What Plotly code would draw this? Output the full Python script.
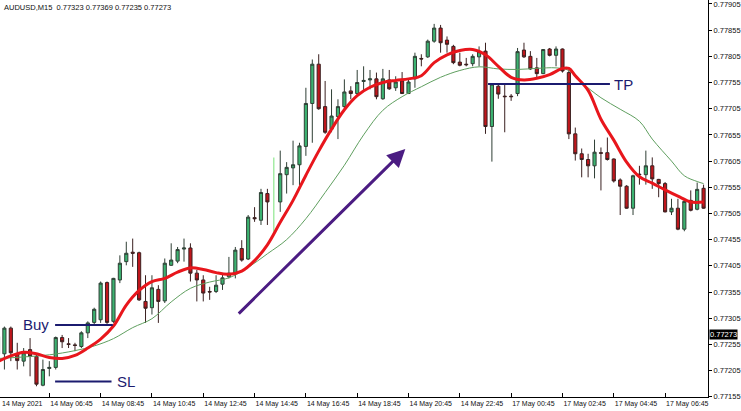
import plotly.graph_objects as go

# ---------------- data ----------------
bars = list(range(111))  # 15-minute bars, bar 0 = 14 May 04:45

opens = [0.77237, 0.77237, 0.77286, 0.77237, 0.77223, 0.77245, 0.77232, 0.77177, 0.77209, 0.77211,
         0.77268, 0.77256, 0.77254, 0.77251, 0.77277, 0.77297, 0.77302, 0.77373, 0.77299, 0.77378,
         0.77413, 0.77431, 0.77430, 0.77337, 0.77325, 0.77360, 0.77338, 0.77406, 0.77414, 0.77437,
         0.77439, 0.77391, 0.77378, 0.77356, 0.77356, 0.77370, 0.77384, 0.77391, 0.77438, 0.77418,
         0.77497, 0.77492, 0.77543, 0.77530, 0.77527, 0.77579, 0.77592, 0.77598, 0.77633, 0.77715,
         0.77790, 0.77709, 0.77666, 0.77690, 0.77709, 0.77739, 0.77734, 0.77757, 0.77760, 0.77762,
         0.77724, 0.77760, 0.77745, 0.77758, 0.77734, 0.77762, 0.77801, 0.77804, 0.77834, 0.77859,
         0.77836, 0.77824, 0.77794, 0.77790, 0.77791, 0.77804, 0.77815, 0.77671, 0.77748, 0.77729,
         0.77729, 0.77734, 0.77817, 0.77805, 0.77783, 0.77772, 0.77819, 0.77807, 0.77819, 0.77774,
         0.77657, 0.77619, 0.77608, 0.77596, 0.77621, 0.77621, 0.77609, 0.77569, 0.77557, 0.77515,
         0.77580, 0.77579, 0.77596, 0.77570, 0.77562, 0.77508, 0.77515, 0.77475, 0.77530, 0.77513,
         0.77553]
highs = [0.77273, 0.77289, 0.77289, 0.77258, 0.77248, 0.77267, 0.77235, 0.77226, 0.77223, 0.77270,
         0.77273, 0.77267, 0.77258, 0.77280, 0.77299, 0.77325, 0.77375, 0.77375, 0.77382, 0.77425,
         0.77451, 0.77457, 0.77432, 0.77387, 0.77387, 0.77368, 0.77419, 0.77448, 0.77441, 0.77457,
         0.77448, 0.77397, 0.77387, 0.77365, 0.77387, 0.77391, 0.77422, 0.77441, 0.77454, 0.77502,
         0.77517, 0.77552, 0.77552, 0.77612, 0.77625, 0.77603, 0.77644, 0.77640, 0.77745, 0.77799,
         0.77809, 0.77758, 0.77742, 0.77723, 0.77761, 0.77748, 0.77779, 0.77786, 0.77779, 0.77774,
         0.77781, 0.77779, 0.77767, 0.77775, 0.77761, 0.77812, 0.77809, 0.77837, 0.77867, 0.77865,
         0.77843, 0.77827, 0.77812, 0.77802, 0.77809, 0.77824, 0.77831, 0.77753, 0.77753, 0.77752,
         0.77733, 0.77821, 0.77831, 0.77815, 0.77802, 0.77819, 0.77821, 0.77824, 0.77820, 0.77779,
         0.77669, 0.77629, 0.77619, 0.77646, 0.77631, 0.77650, 0.77610, 0.77572, 0.77559, 0.77579,
         0.77596, 0.77625, 0.77612, 0.77571, 0.77565, 0.77533, 0.77533, 0.77530, 0.77549, 0.77564,
         0.77560]
lows = [0.77232, 0.77207, 0.77223, 0.77207, 0.77213, 0.77194, 0.77175, 0.77175, 0.77194, 0.77207,
        0.77248, 0.77248, 0.77242, 0.77248, 0.77267, 0.77293, 0.77296, 0.77294, 0.77296, 0.77372,
        0.77406, 0.77403, 0.77338, 0.77296, 0.77312, 0.77296, 0.77334, 0.77405, 0.77410, 0.77413,
        0.77375, 0.77337, 0.77337, 0.77340, 0.77353, 0.77359, 0.77381, 0.77381, 0.77413, 0.77416,
        0.77489, 0.77483, 0.77483, 0.77470, 0.77508, 0.77543, 0.77559, 0.77559, 0.77615, 0.77640,
        0.77703, 0.77657, 0.77660, 0.77647, 0.77705, 0.77723, 0.77731, 0.77739, 0.77742, 0.77723,
        0.77722, 0.77741, 0.77739, 0.77733, 0.77733, 0.77745, 0.77786, 0.77802, 0.77831, 0.77812,
        0.77812, 0.77790, 0.77786, 0.77786, 0.77786, 0.77786, 0.77657, 0.77604, 0.77724, 0.77660,
        0.77720, 0.77729, 0.77802, 0.77779, 0.77764, 0.77771, 0.77805, 0.77786, 0.77774, 0.77647,
        0.77606, 0.77574, 0.77574, 0.77572, 0.77549, 0.77606, 0.77564, 0.77502, 0.77514, 0.77502,
        0.77560, 0.77560, 0.77552, 0.77536, 0.77507, 0.77502, 0.77473, 0.77471, 0.77509, 0.77511,
        0.77514]
closes = [0.77270, 0.77286, 0.77239, 0.77224, 0.77239, 0.77232, 0.77179, 0.77207, 0.77211, 0.77268,
          0.77260, 0.77255, 0.77253, 0.77277, 0.77296, 0.77322, 0.77372, 0.77297, 0.77381, 0.77410,
          0.77429, 0.77429, 0.77340, 0.77324, 0.77363, 0.77337, 0.77410, 0.77416, 0.77436, 0.77439,
          0.77391, 0.77378, 0.77353, 0.77355, 0.77368, 0.77382, 0.77391, 0.77435, 0.77416, 0.77498,
          0.77495, 0.77545, 0.77527, 0.77530, 0.77581, 0.77593, 0.77598, 0.77634, 0.77715, 0.77790,
          0.77705, 0.77660, 0.77691, 0.77709, 0.77737, 0.77734, 0.77755, 0.77759, 0.77762, 0.77728,
          0.77762, 0.77743, 0.77756, 0.77734, 0.77756, 0.77805, 0.77800, 0.77834, 0.77859, 0.77831,
          0.77828, 0.77793, 0.77788, 0.77789, 0.77805, 0.77814, 0.77671, 0.77752, 0.77733, 0.77728,
          0.77728, 0.77814, 0.77804, 0.77781, 0.77772, 0.77818, 0.77807, 0.77819, 0.77777, 0.77657,
          0.77619, 0.77608, 0.77596, 0.77622, 0.77620, 0.77608, 0.77567, 0.77557, 0.77515, 0.77577,
          0.77579, 0.77596, 0.77571, 0.77562, 0.77508, 0.77515, 0.77475, 0.77528, 0.77511, 0.77551,
          0.77515]
special_bar = 43  # bar drawn as a light green line

# fast moving average (thick red), sampled at bars
red_bars = [0, 2, 4, 6, 8, 10, 12, 14, 16, 18, 20, 22, 24, 26, 28, 30, 32, 34, 36, 38, 40, 42, 44,
            46, 48, 50, 52, 54, 56, 58, 60, 62, 64, 66, 68, 70, 72, 74, 76, 78, 80, 82, 84, 86, 88,
            89, 90, 92, 94, 96, 98, 100, 102, 104, 106, 108, 110]
red_ma = [0.77222, 0.77233, 0.77240, 0.77237, 0.77230, 0.77228, 0.77234, 0.77248, 0.77265, 0.77290,
          0.77330, 0.77358, 0.77375, 0.77381, 0.77393, 0.77401, 0.77398, 0.77392, 0.77389, 0.77395,
          0.77415, 0.77445, 0.77488, 0.77530, 0.77578, 0.77624, 0.77666, 0.77703, 0.77730, 0.77746,
          0.77755, 0.77759, 0.77762, 0.77768, 0.77793, 0.77808, 0.77816, 0.77818, 0.77808, 0.77786,
          0.77765, 0.77760, 0.77763, 0.77770, 0.77782, 0.77782, 0.77768, 0.77740, 0.77685, 0.77645,
          0.77603, 0.77575, 0.77563, 0.77550, 0.77538, 0.77527, 0.77527]

# slow moving average (thin green)
green_bars = [0, 4, 8, 12, 15, 18, 21, 24, 27, 30, 33, 36, 39, 42, 45, 48, 51, 54, 57, 60, 63, 66,
              69, 72, 75, 78, 81, 84, 87, 89, 91, 94, 97, 100, 102, 105, 107, 109, 110]
green_ma = [0.77228, 0.77231, 0.77235, 0.77243, 0.77252, 0.77266, 0.77287, 0.77304, 0.77336, 0.77362,
            0.77374, 0.77382, 0.77402, 0.77428, 0.77455, 0.77495, 0.77545, 0.77597, 0.77655, 0.77702,
            0.77728, 0.77747, 0.77765, 0.77778, 0.77785, 0.77781, 0.77780, 0.77782, 0.77783, 0.77778,
            0.77755, 0.77726, 0.77704, 0.77681, 0.77647, 0.77605, 0.77577, 0.77566, 0.77562]

# time axis labels
tick_bars = [8, 16, 24, 32, 40, 48, 56, 64, 72, 80, 88, 96, 104]
tick_text = ["14 May 06:45", "14 May 08:45", "14 May 10:45", "14 May 12:45", "14 May 14:45",
             "14 May 16:45", "14 May 18:45", "14 May 20:45", "14 May 22:45", "17 May 00:45",
             "17 May 02:45", "17 May 04:45", "17 May 06:45"]
first_label = "14 May 2021"

price_ticks = [0.77155, 0.77205, 0.77255, 0.77305, 0.77355, 0.77405, 0.77455, 0.77505, 0.77555,
               0.77605, 0.77655, 0.77705, 0.77755, 0.77805, 0.77855, 0.77905]
price_text = ["%.5f" % v for v in price_ticks]

title_text = "AUDUSD,M15  0.77323 0.77369 0.77235 0.77273"
bid_price = 0.77273

# trade levels drawn on the chart
buy_level, buy_from, buy_to = 0.77292, 8.9, 17.9
sl_level, sl_from, sl_to = 0.77184, 8.9, 17.7
tp_level, tp_from, tp_to = 0.77752, 76.4, 95.4
arrow_start = (37.3, 0.77311)
arrow_end = (63.5, 0.77628)

# ---------------- figure ----------------
NAVY = "#1b1b6f"
FONT = "Liberation Sans"

main_idx = [i for i in bars if i != special_bar]

fig = go.Figure()
fig.add_trace(go.Candlestick(
    x=[bars[i] for i in main_idx],
    open=[opens[i] for i in main_idx],
    high=[highs[i] for i in main_idx],
    low=[lows[i] for i in main_idx],
    close=[closes[i] for i in main_idx],
    increasing=dict(fillcolor="#3cb371", line=dict(color="#2f3f35", width=1)),
    decreasing=dict(fillcolor="#c0161c", line=dict(color="#3a2020", width=1)),
    whiskerwidth=0, showlegend=False, hoverinfo="skip"))

fig.add_trace(go.Scatter(
    x=[bars[special_bar], bars[special_bar]], y=[lows[special_bar], highs[special_bar]],
    mode="lines", line=dict(color="#8fe88f", width=1.2), showlegend=False, hoverinfo="skip"))

fig.add_trace(go.Scatter(x=green_bars, y=green_ma, mode="lines", line_shape="spline",
                         line=dict(color="#5f9f5f", width=1), showlegend=False, hoverinfo="skip"))
fig.add_trace(go.Scatter(x=red_bars, y=red_ma, mode="lines", line_shape="spline",
                         line=dict(color="#e8161c", width=3), showlegend=False, hoverinfo="skip"))

# trade level lines
for lvl, a, b in [(buy_level, buy_from, buy_to), (sl_level, sl_from, sl_to), (tp_level, tp_from, tp_to)]:
    fig.add_shape(type="line", x0=a, x1=b, y0=lvl, y1=lvl, xref="x", yref="y",
                  line=dict(color=NAVY, width=2))

fig.add_annotation(x=buy_from - 0.6, y=buy_level, xref="x", yref="y", text="Buy", showarrow=False,
                   xanchor="right", font=dict(family=FONT, size=15, color=NAVY))
fig.add_annotation(x=sl_to + 0.5, y=sl_level, xref="x", yref="y", text="SL", showarrow=False,
                   xanchor="left", font=dict(family=FONT, size=15, color=NAVY))
fig.add_annotation(x=tp_to + 0.4, y=tp_level, xref="x", yref="y", text="TP", showarrow=False,
                   xanchor="left", font=dict(family=FONT, size=15, color=NAVY))

# trend arrow
fig.add_annotation(x=arrow_end[0], y=arrow_end[1], ax=arrow_start[0], ay=arrow_start[1],
                   xref="x", yref="y", axref="x", ayref="y", text="", showarrow=True,
                   arrowhead=2, arrowsize=1.2, arrowwidth=3, arrowcolor="#4b1c82")

# title text
fig.add_annotation(x=0.003, y=0.998, xref="paper", yref="paper", text=title_text, showarrow=False,
                   xanchor="left", yanchor="top", font=dict(family=FONT, size=7.5, color="#111111"))

# first date label
fig.add_annotation(x=0.0, y=0, xref="paper", yref="paper", text=first_label, showarrow=False,
                   xanchor="left", yanchor="top", yshift=-1,
                   font=dict(family=FONT, size=7, color="#111111"))

# bid price label
fig.add_annotation(x=1.0, y=bid_price, xref="paper", yref="y", text="%.5f" % bid_price,
                   showarrow=False, xanchor="left", xshift=1, bgcolor="#000000", borderpad=0,
                   font=dict(family=FONT, size=7.5, color="#ffffff"))

fig.update_layout(
    width=741, height=411,
    margin=dict(l=0, r=33, t=0, b=14, autoexpand=False),
    paper_bgcolor="white", plot_bgcolor="white",
    xaxis=dict(range=[0.312, 110.69], rangeslider=dict(visible=False), showgrid=False, zeroline=False,
               tickmode="array", tickvals=tick_bars, ticktext=tick_text, tickangle=0,
               automargin=False, ticklabeloverflow="allow",
               ticklabelposition="outside right", ticks="inside", ticklen=4, tickcolor="#000",
               showline=True, linecolor="#000", linewidth=1,
               tickfont=dict(family=FONT, size=7, color="#111111")),
    yaxis=dict(side="right", range=[0.771545, 0.779126], showgrid=False, zeroline=False,
               tickmode="array", tickvals=price_ticks, ticktext=price_text,
               automargin=False, ticklabeloverflow="allow",
               ticks="outside", ticklen=3, tickcolor="#000",
               showline=True, linecolor="#000", linewidth=1,
               tickfont=dict(family=FONT, size=7.5, color="#111111")),
)

fig.write_html("out.html", config={"displayModeBar": False},
               post_script="document.body.style.margin='0px';"
               "document.body.style.overflow='hidden';")
